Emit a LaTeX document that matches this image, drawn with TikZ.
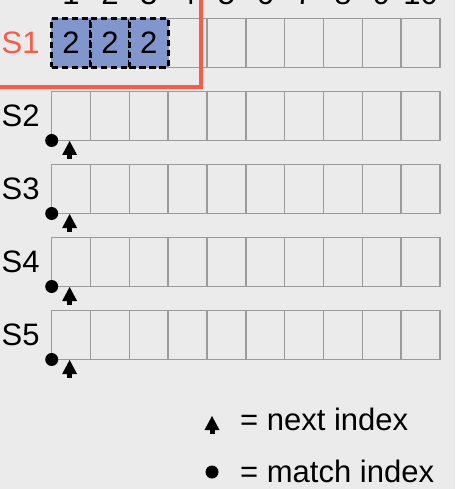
\documentclass[tikz,border=0pt]{standalone}
\usepackage{fontspec}
\setmainfont{Liberation Sans}
\usepackage{tikz}
\definecolor{slidegray}{RGB}{235,235,235}
\definecolor{cellgray}{RGB}{155,155,155}
\definecolor{leaderred}{RGB}{246,92,72}
\definecolor{entryblue}{RGB}{128,150,204}

\begin{document}
\begin{tikzpicture}[x=1pt, y=-1pt,
  cell/.style={draw=cellgray, line width=1.4pt, minimum width=38.83pt, minimum height=49pt, inner sep=0pt, outer sep=0pt},
  entry/.style={cell, fill=entryblue, draw=black, line width=3.2pt, dash pattern=on 6.5pt off 3.5pt},
  lbl/.style={inner sep=0pt, font=\fontsize{31}{37}\selectfont},
  matchdot/.style={circle, fill=black, minimum size=13pt, inner sep=0pt},
  nexttip/.pic={\fill (0,0) -- (-7.5,14) -- (7.5,14) -- cycle; \fill (-2.5,13) rectangle (2.5,17.5);}]
% Slide background
\fill[slidegray] (0,0) rectangle (455,489);
\useasboundingbox (0,0) rectangle (455,489);

% Log rows
\foreach \r in {1,...,5}
  \foreach \i in {1,...,10}
    \node[cell] (c\r-\i) at ({51.7+38.83*(\i-0.5)}, {43+73*(\r-1)}) {};

% Index numbers (cut by the top edge)
\foreach \i in {1,...,10}
  \node[lbl, anchor=base, yshift=14pt] (n\i) at (c1-\i.north) {\i};

% Entries of S1
\foreach \i in {1,2,3}
  \node[entry, lbl] (e\i) at (c1-\i) {2};

% Server labels
\node[lbl, anchor=east, text=leaderred] (s1) at ([xshift=-12pt]c1-1.west) {S1};
\foreach \r in {2,...,5}
  \node[lbl, anchor=east] (s\r) at ([xshift=-12pt]c\r-1.west) {S\r};

% Leader frame
\draw[leaderred, line width=4pt] (201,-5) |- (-5,87);

% Match and next index markers
\foreach \r in {2,...,5} {
  \node[matchdot] (m\r) at (c\r-1.south west) {};
  \pic (t\r) at ([xshift=-1.5pt, yshift=-0.5pt]c\r-1.south) {nexttip};
}

% Legend
\pic (tkey) at (212,416) {nexttip};
\node[lbl, anchor=base west] (nextkey) at (240,430) {= next index};
\node[matchdot] (mkey) at (212,472) {};
\node[lbl, anchor=base west] (matchkey) at (240,482) {= match index};
\end{tikzpicture}
\end{document}
